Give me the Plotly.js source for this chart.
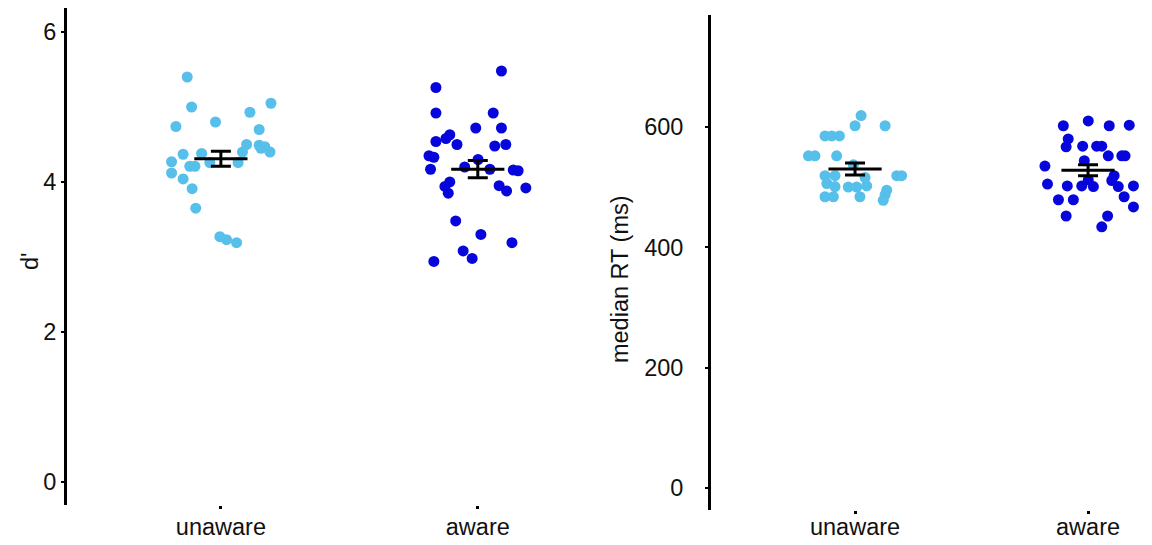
<!DOCTYPE html>
<html>
<head>
<meta charset="utf-8">
<script src="https://cdn.plot.ly/plotly-3.0.1.min.js"></script>
<style>html,body{margin:0;padding:0;background:#fff}#chart{width:1152px;height:545px}</style>
</head>
<body>
<div id="chart"></div>
<script>
// ---- data ----
const categories = ["unaware", "aware"];
const catPos = [1, 2];

// d' values (left panel)
const dprimeUnaware = [5.40, 5.00, 4.74, 4.80, 4.93, 5.05, 4.70, 4.50, 4.40, 4.49, 4.47, 4.40, 4.45,
  4.37, 4.38, 4.27, 4.12, 4.21, 4.21, 4.26, 4.26, 4.04, 3.91, 3.65, 3.27, 3.23, 3.19];
const dprimeUnawareJitter = [-0.131, -0.114, -0.175, -0.021, 0.113, 0.195, 0.149, 0.100, 0.084, 0.149, 0.171, 0.191, 0.156,
  -0.147, -0.075, -0.192, -0.192, -0.121, -0.101, -0.043, 0.067, -0.147, -0.112, -0.098, -0.004, 0.022, 0.061];
const dprimeAware = [5.48, 5.26, 4.92, 4.92, 4.72, 4.72, 4.63, 4.58, 4.54, 4.50, 4.48, 4.50, 4.35, 4.33,
  4.17, 4.20, 4.30, 4.17, 4.16, 4.15, 4.00, 3.94, 3.85, 3.95, 3.88, 3.92, 3.48, 3.30, 3.19, 3.08, 2.98, 2.94];
const dprimeAwareJitter = [0.092, -0.163, -0.163, 0.060, -0.008, 0.092, -0.109, -0.124, -0.163, -0.081, 0.066, 0.109, -0.190, -0.171,
  -0.184, -0.051, 0.001, 0.047, 0.138, 0.157, -0.109, -0.128, -0.115, 0.083, 0.112, 0.187, -0.086, 0.012, 0.133, -0.057, -0.022, -0.171];
const dprimeMean = [4.31, 4.17];
const dprimeSem = [0.10, 0.115];

// median RT values (right panel)
const rtUnaware = [619, 602, 602, 585, 585, 585, 552, 552, 552, 537, 519, 519, 519, 519, 506, 501, 500, 500, 502, 516,
  495, 487, 484, 484, 484, 478];
const rtUnawareJitter = [0.026, 0, 0.129, -0.129, -0.100, -0.067, -0.200, -0.172, -0.079, -0.007, 0.179, 0.200, -0.129, -0.086,
  -0.121, -0.086, -0.029, 0.007, 0.050, 0.043, 0.136, 0.129, -0.129, -0.093, 0.021, 0.121];
const rtAware = [602, 610, 602, 603, 580, 567, 568, 568, 568, 552, 552, 552, 535, 544, 519, 511, 505, 502, 502, 501,
  501, 502, 512, 484, 479, 479, 467, 452, 452, 434];
const rtAwareJitter = [-0.106, 0.001, 0.091, 0.177, -0.085, -0.094, -0.023, 0.037, 0.059, 0.087, 0.145, 0.159, -0.185, -0.016,
  0.112, 0.102, -0.174, -0.089, -0.027, 0.023, 0.130, 0.195, 0.001, 0.155, -0.127, -0.063, 0.195, -0.094, 0.084, 0.059];
const rtMean = [530, 528];
const rtSem = [10, 9];

// ---- styles ----
const lightBlue = "#56bfea";
const darkBlue = "#0606dc";
const font = "Liberation Sans, Arial, sans-serif";
const textColor = "#111111";
const fs = 23.5;

function pts(vals, jit, pos, color, xa, ya) {
  return {
    type: "scatter", mode: "markers", xaxis: xa, yaxis: ya,
    x: vals.map((v, i) => pos + jit[i]), y: vals,
    marker: {color: color, size: 11, line: {width: 0}},
    hoverinfo: "y", showlegend: false
  };
}
function errs(means, sems, xa, ya) {
  return {
    type: "scatter", mode: "markers", xaxis: xa, yaxis: ya,
    x: catPos, y: means,
    marker: {symbol: "line-ew", size: 38, color: "black", line: {width: 3, color: "black"}},
    error_y: {type: "data", array: sems, visible: true, color: "black", thickness: 3, width: 10},
    hoverinfo: "y", showlegend: false
  };
}

const data = [
  pts(dprimeUnaware, dprimeUnawareJitter, catPos[0], lightBlue, "x", "y"),
  pts(dprimeAware, dprimeAwareJitter, catPos[1], darkBlue, "x", "y"),
  errs(dprimeMean, dprimeSem, "x", "y"),
  pts(rtUnaware, rtUnawareJitter, catPos[0], lightBlue, "x2", "y2"),
  pts(rtAware, rtAwareJitter, catPos[1], darkBlue, "x2", "y2"),
  errs(rtMean, rtSem, "x2", "y2")
];

const xCommon = {
  tickmode: "array", tickvals: catPos, ticktext: categories,
  showgrid: false, zeroline: false, showline: false,
  ticks: "outside", ticklen: 3, tickwidth: 3, tickcolor: "black",
  tickfont: {family: font, size: fs, color: textColor},
  fixedrange: true
};
const yCommon = {
  showgrid: false, zeroline: false, showline: true, linewidth: 3, linecolor: "black",
  ticks: "outside", ticklen: 3, tickwidth: 2, tickcolor: "black",
  tickfont: {family: font, size: fs, color: textColor}, fixedrange: true
};

const layout = {
  width: 1152, height: 545,
  margin: {l: 67, r: 2, t: 8, b: 35},
  paper_bgcolor: "white", plot_bgcolor: "white",
  xaxis: Object.assign({}, xCommon, {domain: [0, 0.492], range: [0.401, 2.475], anchor: "y", ticklabelstandoff: -2}),
  yaxis: Object.assign({}, yCommon, {domain: [0.01, 1], range: [-0.307, 6.32], tickvals: [0, 2, 4, 6], anchor: "x", ticklabelstandoff: 0}),
  xaxis2: Object.assign({}, xCommon, {domain: [0.5947, 1], range: [0.382, 2.266], anchor: "y2", ticklabelstandoff: -7}),
  yaxis2: Object.assign({}, yCommon, {domain: [0, 0.986], range: [-36.6, 786], tickvals: [0, 200, 400, 600], anchor: "x2", ticklabelstandoff: 17}),
  annotations: [
    {text: "d'", xref: "paper", yref: "paper", x: -0.0342, y: 0.496, showarrow: false, textangle: -90,
     font: {family: font, size: fs, color: textColor}, xanchor: "center", yanchor: "middle"},
    {text: "median RT (ms)", xref: "paper", yref: "paper", x: 0.5106, y: 0.46, showarrow: false, textangle: -90,
     font: {family: font, size: fs, color: textColor}, xanchor: "center", yanchor: "middle"}
  ]
};

Plotly.newPlot("chart", data, layout, {displayModeBar: false, staticPlot: true});
</script>
</body>
</html>
